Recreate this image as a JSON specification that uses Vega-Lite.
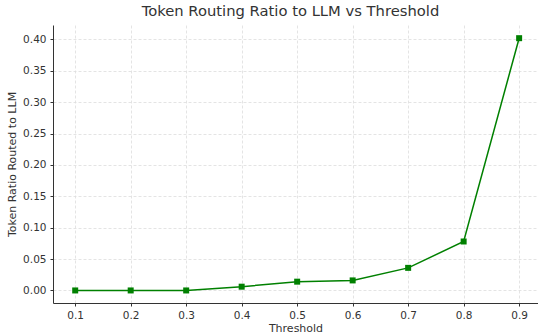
{
  "$schema": "https://vega.github.io/schema/vega-lite/v6.json",
  "width": 485,
  "height": 278,
  "autosize": "none",
  "padding": {"left": 53, "top": 25, "right": 0, "bottom": 31},
  "background": "white",
  "title": {
    "text": "Token Routing Ratio to LLM vs Threshold",
    "font": "DejaVu Sans",
    "fontSize": 14.75,
    "fontWeight": "normal",
    "color": "#333333",
    "anchor": "middle",
    "dx": -5,
    "offset": 6
  },
  "config": {
    "view": {"stroke": null},
    "axis": {
      "labelFont": "DejaVu Sans",
      "titleFont": "DejaVu Sans",
      "labelFontSize": 10.5,
      "titleFontSize": 11,
      "titleFontWeight": "normal",
      "labelColor": "#333333",
      "titleColor": "#333333",
      "domainColor": "#333333",
      "tickColor": "#333333",
      "tickSize": 3,
      "gridColor": "#dddddd",
      "gridDash": [3, 2],
      "gridWidth": 0.8
    }
  },
  "data": {
    "values": [
      {"threshold": 0.1, "ratio": 0.0},
      {"threshold": 0.2, "ratio": 0.0},
      {"threshold": 0.3, "ratio": 0.0},
      {"threshold": 0.4, "ratio": 0.006},
      {"threshold": 0.5, "ratio": 0.014},
      {"threshold": 0.6, "ratio": 0.016},
      {"threshold": 0.7, "ratio": 0.036},
      {"threshold": 0.8, "ratio": 0.078},
      {"threshold": 0.9, "ratio": 0.402}
    ]
  },
  "mark": {
    "type": "line",
    "color": "#008000",
    "strokeWidth": 1.5,
    "point": {"shape": "square", "size": 36, "filled": true, "color": "#008000", "opacity": 1}
  },
  "encoding": {
    "x": {
      "field": "threshold",
      "type": "quantitative",
      "title": "Threshold",
      "scale": {"domain": [0.06, 0.934], "nice": false, "zero": false},
      "axis": {
        "values": [0.1, 0.2, 0.3, 0.4, 0.5, 0.6, 0.7, 0.8, 0.9],
        "format": ".1f",
        "titlePadding": 2,
        "labelPadding": 4
      }
    },
    "y": {
      "field": "ratio",
      "type": "quantitative",
      "title": "Token Ratio Routed to LLM",
      "scale": {"domain": [-0.02, 0.423], "nice": false, "zero": false},
      "axis": {
        "values": [0, 0.05, 0.1, 0.15, 0.2, 0.25, 0.3, 0.35, 0.4],
        "format": ".2f",
        "titlePadding": 5,
        "labelPadding": 4
      }
    }
  }
}
